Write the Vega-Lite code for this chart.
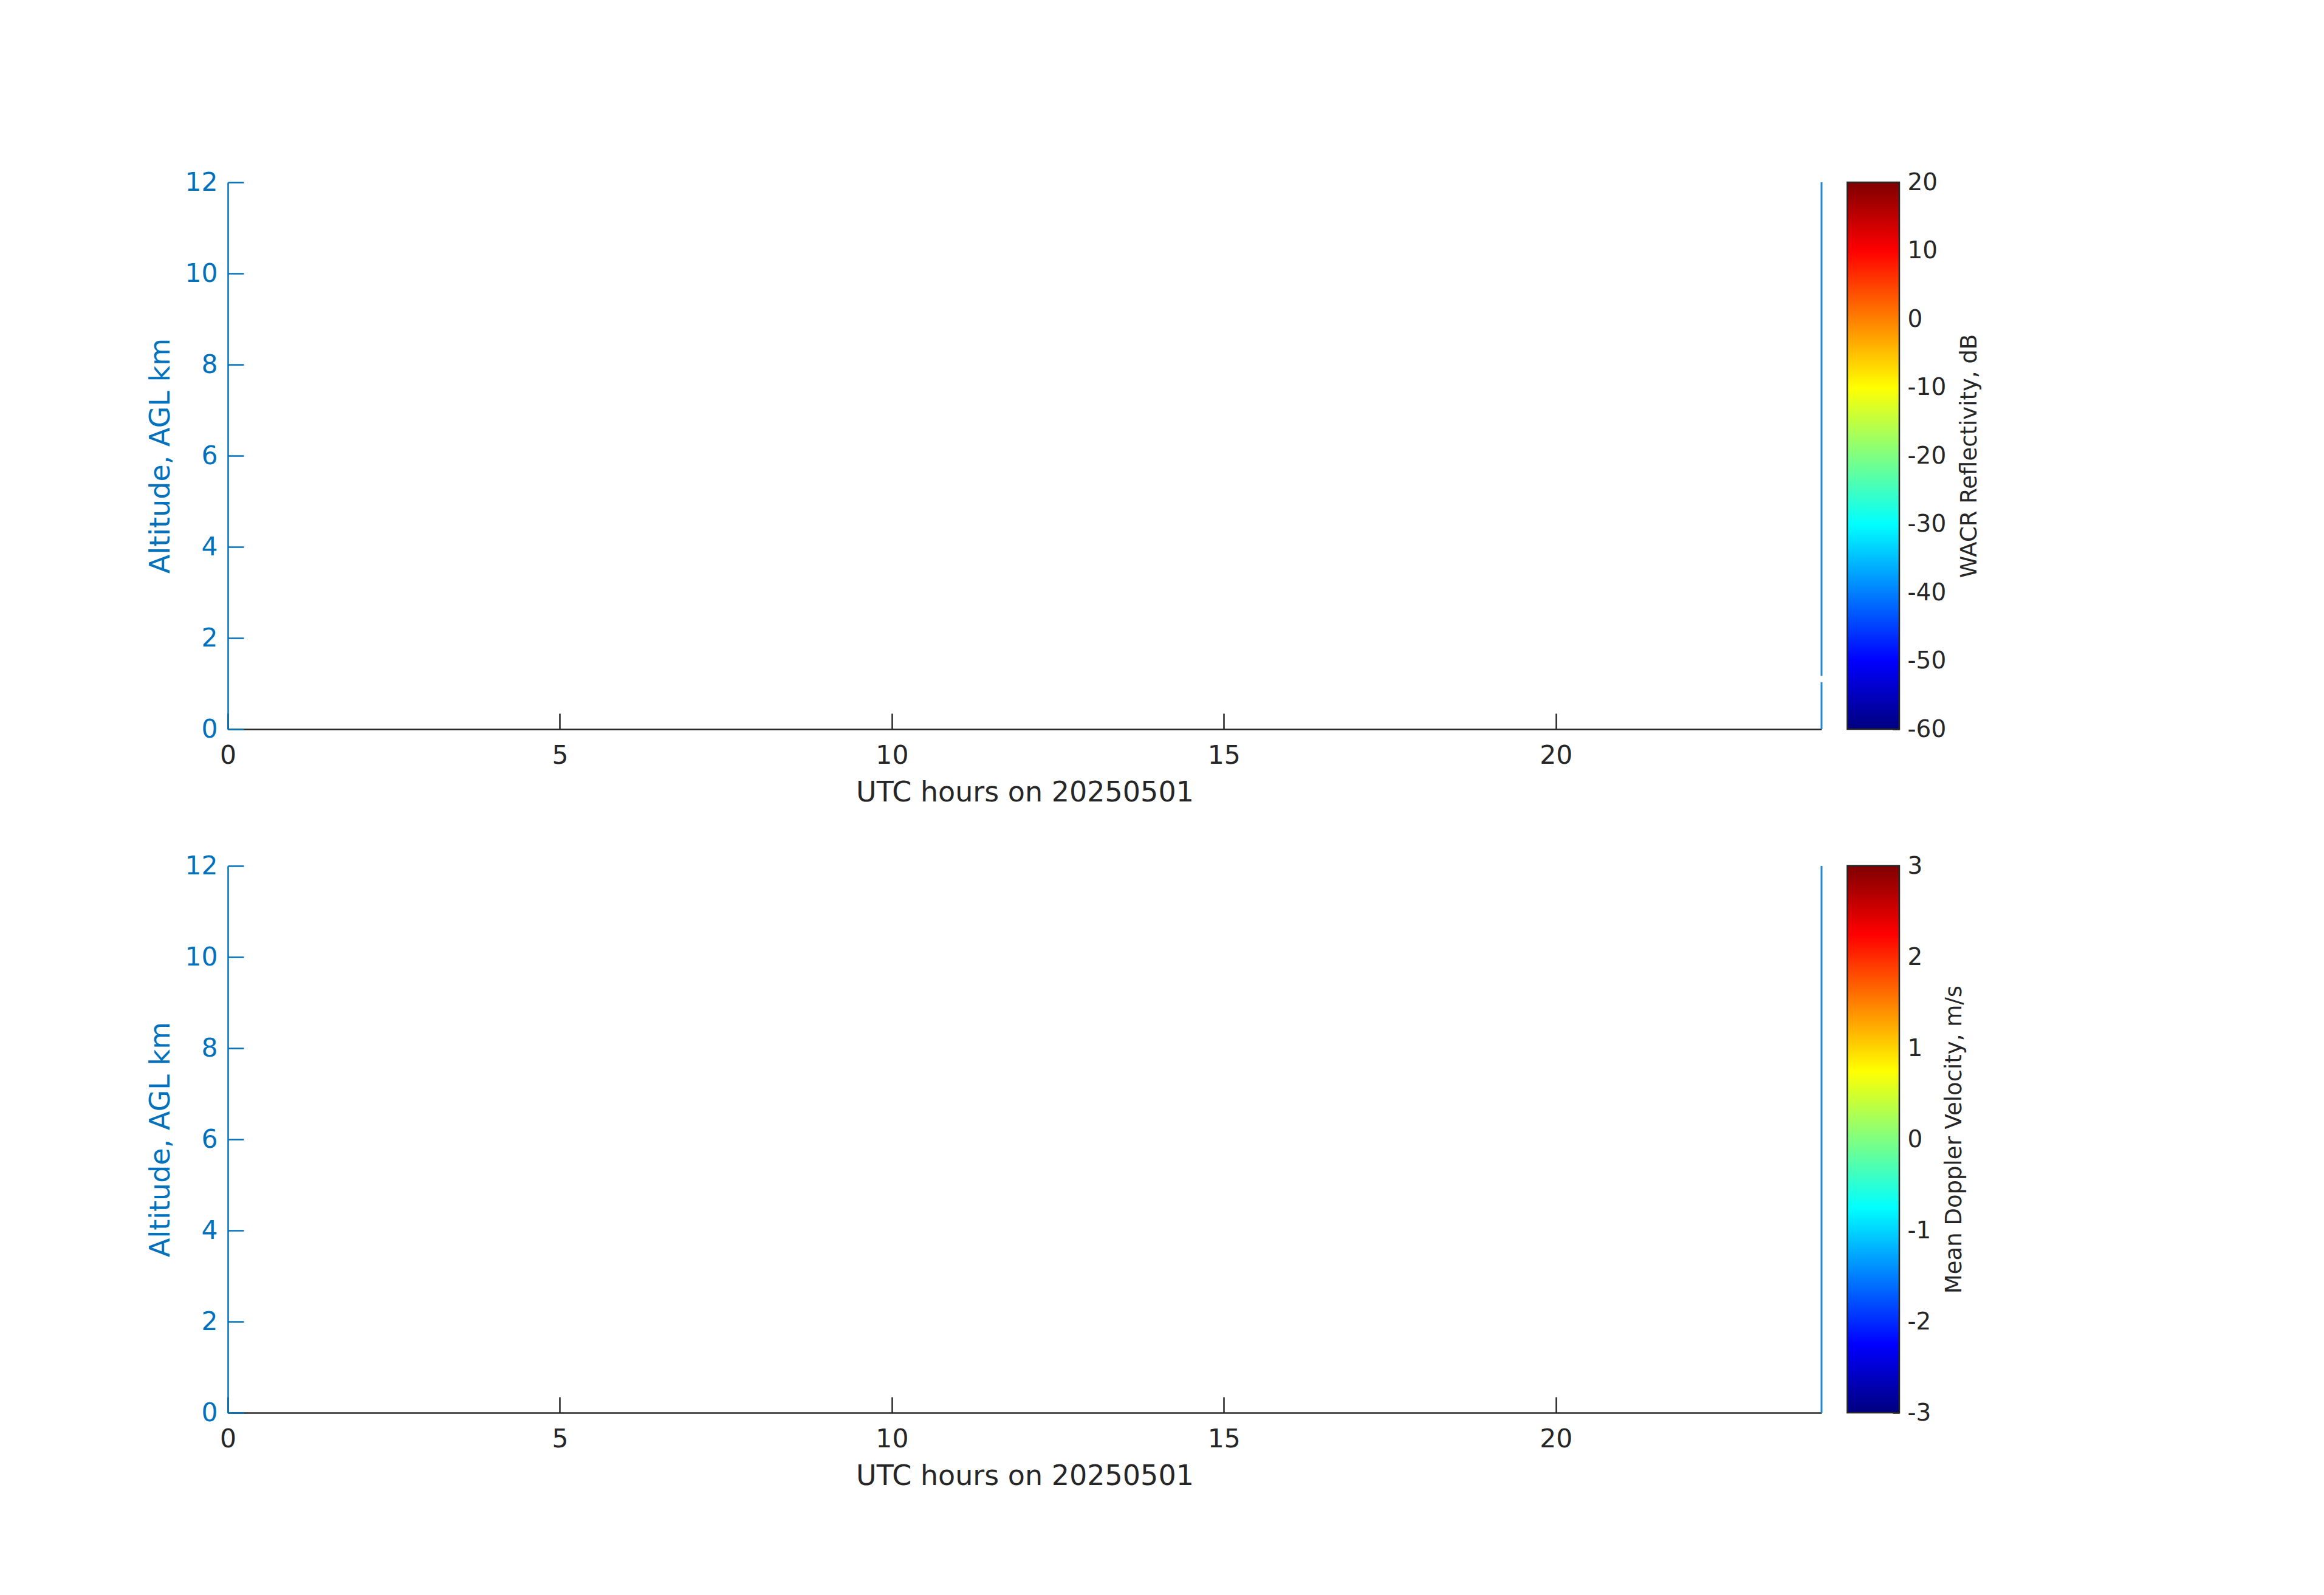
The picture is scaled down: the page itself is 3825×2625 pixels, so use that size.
{
  "$schema": "https://vega.github.io/schema/vega-lite/v6.json",
  "background": "white",
  "autosize": {"type": "pad"},
  "padding": {"left": 241, "top": 279, "right": 40, "bottom": 40},
  "config": {
    "font": "DejaVu Sans",
    "view": {"stroke": null},
    "axis": {"grid": false, "labelFont": "DejaVu Sans", "titleFont": "DejaVu Sans", "titleFontWeight": "normal", "labelFlush": false, "labelOverlap": false}
  },
  "datasets": {
    "lines": [
      {"panel": "reflectivity", "hour": 24, "alt_lo": 0, "alt_hi": 1.03},
      {"panel": "reflectivity", "hour": 24, "alt_lo": 1.17, "alt_hi": 12},
      {"panel": "velocity", "hour": 24, "alt_lo": 0, "alt_hi": 12}
    ],
    "cbar": [
      {"var": "reflectivity", "lo": -60, "hi": 20},
      {"var": "velocity", "lo": -3, "hi": 3}
    ]
  },
  "vconcat": [
    {
      "hconcat": [
        {
          "width": 2623, "height": 900,
          "data": {"name": "lines"},
          "transform": [{"filter": "datum.panel === 'reflectivity'"}],
          "mark": {"type": "rule", "color": "#2387d0", "strokeWidth": 3},
          "encoding": {
            "x": {"field": "hour", "type": "quantitative", "scale": {"domain": [0, 24], "nice": false, "zero": false},
              "axis": {"values": [0, 5, 10, 15, 20], "title": "UTC hours on 20250501", "tickSize": -26, "tickWidth": 2.5, "domainWidth": 2.5, "domainColor": "#262626", "tickColor": "#262626", "labelColor": "#262626", "titleColor": "#262626", "labelFontSize": 42.5, "titleFontSize": 46, "labelPadding": 48, "titlePadding": 18}},
            "y": {"field": "alt_lo", "type": "quantitative", "scale": {"domain": [0, 12], "nice": false},
              "axis": {"values": [0, 2, 4, 6, 8, 10, 12], "title": "Altitude, AGL km", "tickSize": -26, "tickWidth": 2.5, "domainWidth": 2.5, "domainColor": "#0072BD", "tickColor": "#0072BD", "labelColor": "#0072BD", "titleColor": "#0072BD", "labelFontSize": 42.5, "titleFontSize": 46, "labelPadding": 43, "titlePadding": 15}},
            "y2": {"field": "alt_hi"}
          }
        },
        {
          "width": 85.5, "height": 900,
          "data": {"name": "cbar"},
          "transform": [{"filter": "datum.var === 'reflectivity'"}],
          "mark": {"type": "rect", "stroke": "#262626", "strokeWidth": 2.5,
            "fill": {"gradient": "linear", "x1": 0, "y1": 1, "x2": 0, "y2": 0,
              "stops": [
                {"offset": 0, "color": "#00007f"},
                {"offset": 0.125, "color": "#0000ff"},
                {"offset": 0.375, "color": "#00ffff"},
                {"offset": 0.625, "color": "#ffff00"},
                {"offset": 0.875, "color": "#ff0000"},
                {"offset": 1, "color": "#7f0000"}
              ]}},
          "encoding": {
            "x": {"datum": 0, "type": "quantitative", "scale": {"domain": [0, 1], "nice": false}, "axis": null},
            "x2": {"datum": 1},
            "y": {"field": "lo", "type": "quantitative", "scale": {"domain": [-60, 20], "nice": false, "zero": false},
              "axis": {"orient": "right", "values": [-60, -50, -40, -30, -20, -10, 0, 10, 20], "labelExpr": "'' + datum.value", "title": "WACR Reflectivity, dB", "domain": false, "tickSize": -11, "tickWidth": 2.5, "tickColor": "#262626", "labelColor": "#262626", "titleColor": "#262626", "labelFontSize": 39, "titleFontSize": 37, "labelPadding": 24, "titlePadding": 21, "titleAngle": 270, "titleBaseline": "top"}},
            "y2": {"field": "hi"}
          }
        }
      ],
      "spacing": 42.5,
      "bounds": "flush"
    },
    {
      "hconcat": [
        {
          "width": 2623, "height": 900,
          "data": {"name": "lines"},
          "transform": [{"filter": "datum.panel === 'velocity'"}],
          "mark": {"type": "rule", "color": "#2387d0", "strokeWidth": 3},
          "encoding": {
            "x": {"field": "hour", "type": "quantitative", "scale": {"domain": [0, 24], "nice": false, "zero": false},
              "axis": {"values": [0, 5, 10, 15, 20], "title": "UTC hours on 20250501", "tickSize": -26, "tickWidth": 2.5, "domainWidth": 2.5, "domainColor": "#262626", "tickColor": "#262626", "labelColor": "#262626", "titleColor": "#262626", "labelFontSize": 42.5, "titleFontSize": 46, "labelPadding": 48, "titlePadding": 18}},
            "y": {"field": "alt_lo", "type": "quantitative", "scale": {"domain": [0, 12], "nice": false},
              "axis": {"values": [0, 2, 4, 6, 8, 10, 12], "title": "Altitude, AGL km", "tickSize": -26, "tickWidth": 2.5, "domainWidth": 2.5, "domainColor": "#0072BD", "tickColor": "#0072BD", "labelColor": "#0072BD", "titleColor": "#0072BD", "labelFontSize": 42.5, "titleFontSize": 46, "labelPadding": 43, "titlePadding": 15}},
            "y2": {"field": "alt_hi"}
          }
        },
        {
          "width": 85.5, "height": 900,
          "data": {"name": "cbar"},
          "transform": [{"filter": "datum.var === 'velocity'"}],
          "mark": {"type": "rect", "stroke": "#262626", "strokeWidth": 2.5,
            "fill": {"gradient": "linear", "x1": 0, "y1": 1, "x2": 0, "y2": 0,
              "stops": [
                {"offset": 0, "color": "#00007f"},
                {"offset": 0.125, "color": "#0000ff"},
                {"offset": 0.375, "color": "#00ffff"},
                {"offset": 0.625, "color": "#ffff00"},
                {"offset": 0.875, "color": "#ff0000"},
                {"offset": 1, "color": "#7f0000"}
              ]}},
          "encoding": {
            "x": {"datum": 0, "type": "quantitative", "scale": {"domain": [0, 1], "nice": false}, "axis": null},
            "x2": {"datum": 1},
            "y": {"field": "lo", "type": "quantitative", "scale": {"domain": [-3, 3], "nice": false, "zero": false},
              "axis": {"orient": "right", "values": [-3, -2, -1, 0, 1, 2, 3], "labelExpr": "'' + datum.value", "title": "Mean Doppler Velocity, m/s", "domain": false, "tickSize": -11, "tickWidth": 2.5, "tickColor": "#262626", "labelColor": "#262626", "titleColor": "#262626", "labelFontSize": 39, "titleFontSize": 37, "labelPadding": 24, "titlePadding": 21, "titleAngle": 270, "titleBaseline": "top"}},
            "y2": {"field": "hi"}
          }
        }
      ],
      "spacing": 42.5,
      "bounds": "flush"
    }
  ],
  "spacing": 1125,
  "bounds": "flush"
}
